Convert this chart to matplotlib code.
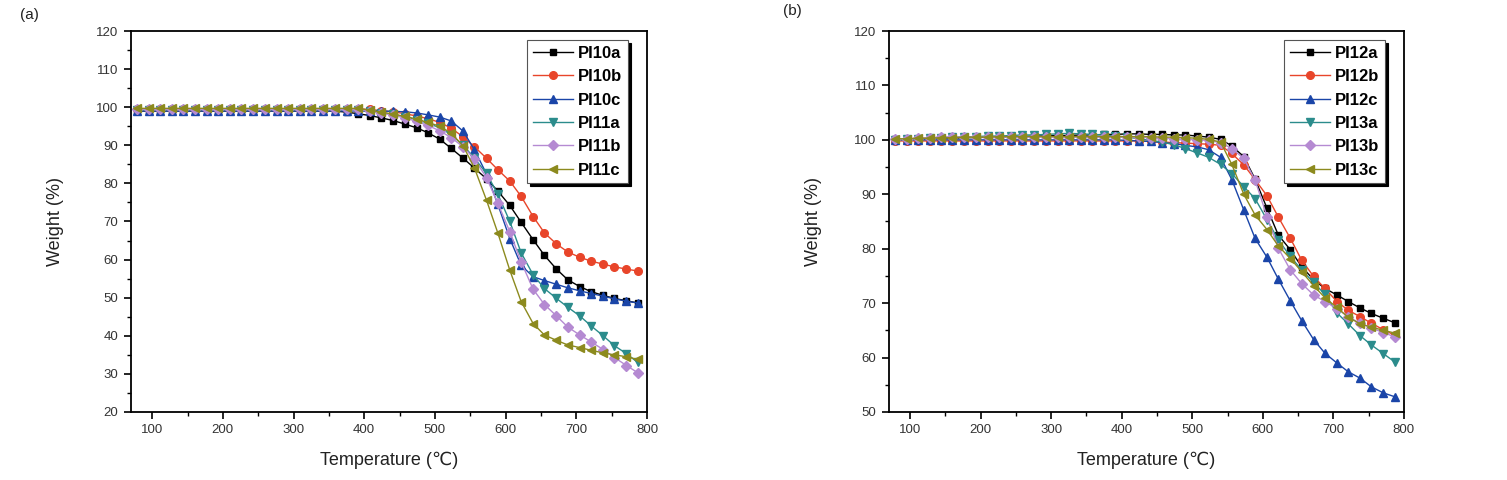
import numpy as np
import matplotlib
matplotlib.use('Agg')
import matplotlib.pyplot as plt
from matplotlib.ticker import MultipleLocator

plt.rcParams['font.family'] = ['Liberation Sans', 'DejaVu Sans']

# temperatura de cada punto (°C), igual en los dos paneles
temperatura = [78, 95, 111, 128, 144, 160, 177, 193, 210, 226, 243, 259, 276, 292, 309,
               325, 342, 358, 375, 391, 408, 424, 441, 457, 474, 490, 507, 523, 540, 556,
               573, 589, 606, 622, 639, 655, 672, 688, 705, 721, 738, 754, 771, 787]

# panel (a)
nombres_a = ['PI10a', 'PI10b', 'PI10c', 'PI11a', 'PI11b', 'PI11c']
pi10a = [99.0] * 18 + [98.7, 98.3, 97.8, 97.2, 96.5, 95.6, 94.6, 93.3, 91.6, 89.2, 86.6, 84.0,
                       81.2, 78.0, 74.2, 69.8, 65.2, 61.1, 57.5, 54.7, 52.9, 51.6, 50.6, 49.8,
                       49.2, 48.6]
pi10b = [99.6] * 20 + [99.4, 99.1, 98.8, 98.3, 97.7, 97.0, 96.0, 94.5, 92.2, 89.6, 86.6, 83.6,
                       80.6, 76.6, 71.3, 67.0, 64.1, 62.0, 60.6, 59.6, 58.8, 58.1, 57.5, 57.0]
pi10c = [99.0] * 22 + [98.9, 98.8, 98.5, 98.0, 97.4, 96.4, 93.7, 88.8, 82.5, 74.5, 65.5, 58.5,
                       55.5, 54.5, 53.5, 52.6, 51.8, 51.1, 50.4, 49.7, 49.1, 48.6]
pi11a = [99.3] * 20 + [99.0, 98.6, 98.1, 97.5, 96.7, 95.8, 94.6, 92.8, 90.0, 86.6, 82.6, 77.2,
                       70.0, 61.8, 56.0, 52.4, 49.8, 47.5, 45.2, 42.6, 40.0, 37.4, 35.3, 33.0]
pi11b = [99.4] * 20 + [99.0, 98.5, 97.9, 97.2, 96.3, 95.2, 93.8, 92.0, 89.6, 86.4, 81.5, 74.8,
                       67.3, 59.4, 52.2, 48.2, 45.2, 42.3, 40.2, 38.4, 36.4, 34.3, 32.2, 30.3]
pi11c = [99.7] * 20 + [99.2, 98.7, 98.2, 97.6, 96.9, 96.0, 95.0, 93.2, 89.8, 84.0, 75.6, 67.0,
                       57.2, 49.0, 43.2, 40.2, 38.8, 37.6, 36.9, 36.2, 35.5, 35.0, 34.5, 33.8]

# panel (b)
nombres_b = ['PI12a', 'PI12b', 'PI12c', 'PI13a', 'PI13b', 'PI13c']
pi12a = [100.1, 100.1, 100.2, 100.2, 100.3, 100.3, 100.4, 100.4, 100.5, 100.5, 100.6, 100.6,
         100.7, 100.7, 100.8, 100.8, 100.9, 100.9, 101.0, 101.0, 101.1, 101.1, 101.0, 101.0,
         100.9, 100.9, 100.7, 100.5, 100.1, 98.9, 96.9, 92.8, 87.4, 82.5, 79.8, 76.7, 74.3,
         72.7, 71.5, 70.3, 69.1, 68.1, 67.2, 66.4]
pi12b = [99.8] * 22 + [99.7, 99.6, 99.5, 99.4, 99.3, 99.2, 99.0, 97.5, 95.4, 92.7, 89.7, 85.8,
                       81.9, 77.9, 74.9, 72.7, 70.3, 68.7, 67.5, 66.3, 65.1, 64.1]
pi12c = [100.0] * 20 + [99.9, 99.8, 99.7, 99.5, 99.3, 99.0, 98.7, 98.2, 96.8, 92.7, 87.1, 81.9,
                        78.4, 74.4, 70.4, 66.8, 63.3, 60.8, 59.0, 57.4, 56.2, 54.6, 53.5, 52.8]
pi13a = [100.0, 100.1, 100.2, 100.3, 100.4, 100.5, 100.5, 100.6, 100.7, 100.7, 100.8, 100.9,
         100.9, 101.0, 101.1, 101.2, 101.1, 101.0, 100.9, 100.7, 100.5, 100.2, 99.9, 99.6,
         99.1, 98.4, 97.6, 96.8, 95.5, 93.8, 91.4, 89.2, 85.3, 81.6, 78.6, 76.1, 73.8, 71.6,
         68.2, 66.2, 64.0, 62.3, 60.7, 59.2]
pi13b = [100.1, 100.2, 100.3, 100.4] + [100.5] * 18 + [100.4, 100.3, 100.2, 100.1, 100.0, 99.9,
                                                       99.5, 98.4, 96.6, 92.6, 85.9, 80.1, 76.1,
                                                       73.6, 71.5, 70.3, 69.0, 67.5, 66.3, 65.4,
                                                       64.6, 63.8]
pi13c = [100.2, 100.2, 100.3, 100.3, 100.4, 100.4, 100.5, 100.5, 100.5, 100.6, 100.6, 100.6,
         100.6, 100.6, 100.6, 100.6, 100.6, 100.6, 100.6, 100.6, 100.6, 100.6, 100.6, 100.5,
         100.5, 100.4, 100.3, 100.1, 99.6, 95.5, 90.0, 86.2, 83.5, 80.5, 78.2, 75.8, 73.2,
         71.0, 69.2, 67.4, 66.2, 65.6, 65.0, 64.5]

colores = ['#000000', '#e8452a', '#1a45a8', '#2b8c8c', '#b58ad2', '#8c8a1e']
marcadores = ['s', 'o', '^', 'v', 'D', '<']
tamanos = [5, 5.5, 6, 6, 5, 6]


def dibujar_panel(ax, series, nombres, ylim):
    for i, (y, nombre) in enumerate(zip(series, nombres)):
        ax.plot(temperatura, y, color=colores[i], marker=marcadores[i], markersize=tamanos[i],
                linewidth=1.0, label=nombre)
    ax.set_xlim(70, 800)
    ax.set_ylim(*ylim)
    ax.xaxis.set_major_locator(MultipleLocator(100))
    ax.xaxis.set_minor_locator(MultipleLocator(50))
    ax.yaxis.set_major_locator(MultipleLocator(10))
    ax.yaxis.set_minor_locator(MultipleLocator(5))
    ax.tick_params(which='major', direction='out', length=5, width=1.2, labelsize=9.5,
                   labelcolor='#333333', pad=4)
    ax.tick_params(which='minor', direction='out', length=3, width=1.0)
    for lado in ax.spines.values():
        lado.set_linewidth(1.3)
    ax.set_xlabel('Temperature (℃)', fontsize=13, color='#222222')
    ax.set_ylabel('Weight (%)', fontsize=13, color='#222222')
    ax.xaxis.set_label_coords(0.5, -0.105)
    ax.yaxis.set_label_coords(-0.13, 0.5)
    leg = ax.legend(loc='upper right', bbox_to_anchor=(0.963, 0.976), borderaxespad=0,
                    fancybox=False, shadow={'color': 'black', 'alpha': 1},
                    prop={'weight': 'bold', 'size': 12}, handlelength=2.4,
                    labelspacing=0.5, handletextpad=0.3, borderpad=0.35)
    leg.get_frame().set_edgecolor('#555555')
    leg.get_frame().set_linewidth(0.8)
    return leg


fig = plt.figure(figsize=(15.07, 4.8), dpi=100)
ax_a = fig.add_axes([0.0869, 0.1417, 0.3424, 0.7937])
ax_b = fig.add_axes([0.5899, 0.1417, 0.3417, 0.7937])

dibujar_panel(ax_a, [pi10a, pi10b, pi10c, pi11a, pi11b, pi11c], nombres_a, (20, 120))
dibujar_panel(ax_b, [pi12a, pi12b, pi12c, pi13a, pi13b, pi13c], nombres_b, (50, 120))

fig.text(20 / 1507, 1 - 15 / 480, '(a)', fontsize=11, va='center', ha='left', color='#222222')
fig.text(783 / 1507, 1 - 11 / 480, '(b)', fontsize=11, va='center', ha='left', color='#222222')

fig.savefig('out.png', dpi=100)
